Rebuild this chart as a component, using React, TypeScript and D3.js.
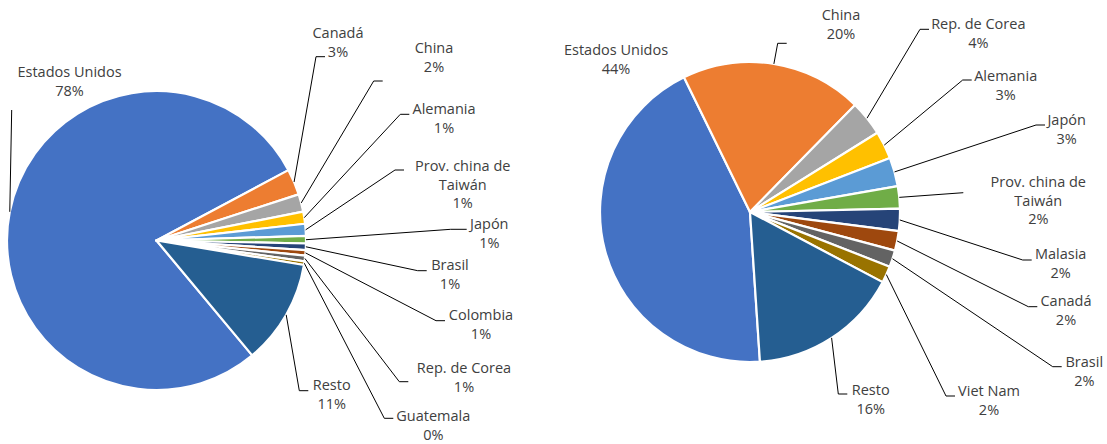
import React from "react";
import * as d3 from "d3";

// ---------- DATA ----------
const leftCategories = ["Estados Unidos", "Canadá", "China", "Alemania", "Prov. china de Taiwán", "Japón", "Brasil", "Colombia", "Rep. de Corea", "Guatemala", "Resto"];
const leftValues = [78.1, 2.8, 1.9, 1.3, 1.3, 0.8, 0.7, 0.6, 0.6, 0.4, 11.3];

const rightCategories = ["Estados Unidos", "China", "Rep. de Corea", "Alemania", "Japón", "Prov. china de Taiwán", "Malasia", "Canadá", "Brasil", "Viet Nam", "Resto"];
const rightValues = [43.8, 19.6, 3.8, 3.0, 3.1, 2.4, 2.4, 2.1, 1.8, 1.8, 16.2];

// label line breaks (text only)
const labelLines: Record<string, string[]> = {
  "Prov. china de Taiwán": ["Prov. china de", "Taiwán"],
};

// ---------- STYLE / LAYOUT ----------
const palette = ["#4472C4", "#ED7D31", "#A5A5A5", "#FFC000", "#5B9BD5", "#70AD47", "#264478", "#9E480E", "#636363", "#997300", "#255E91"];

type LabelPos = { cx: number; cy: number; ex?: number; ey?: number; elbow?: number };

const leftLayout = {
  cx: 156.5, cy: 240.5, r: 149.5, startDeg: 140.2,
  labels: [
    { cx: 69.5, cy: 72, ex: 11.7, ey: 110, elbow: 0 },
    { cx: 338, cy: 33, ex: 325, ey: 56.7 },
    { cx: 434, cy: 48, ex: 382.7, ey: 81 },
    { cx: 444, cy: 109, ex: 409.3, ey: 114.3 },
    { cx: 462.7, cy: 165.7, ex: 404, ey: 170 },
    { cx: 489.3, cy: 224, ex: 466.7, ey: 229.3, elbow: 16 },
    { cx: 450, cy: 265, ex: 426.7, ey: 270.7 },
    { cx: 481, cy: 315, ex: 445, ey: 320.7 },
    { cx: 464, cy: 367.7, ex: 408.3, ey: 381.7 },
    { cx: 433.3, cy: 416, ex: 393.3, ey: 418.3 },
    { cx: 331.7, cy: 385, ex: 308.3, ey: 390.7 },
  ] as LabelPos[],
};

const rightLayout = {
  cx: 750, cy: 212, r: 150, startDeg: 176.2,
  labels: [
    { cx: 616, cy: 50 },
    { cx: 841, cy: 15, ex: 786.7, ey: 43.3 },
    { cx: 978.3, cy: 24, ex: 929, ey: 29.3 },
    { cx: 1005.7, cy: 76, ex: 971.7, ey: 80 },
    { cx: 1066.7, cy: 120, ex: 1045, ey: 125 },
    { cx: 1038.3, cy: 181.7, ex: 963.3, ey: 192.7, elbow: 0 },
    { cx: 1060.7, cy: 254.3, ex: 1031.7, ey: 260 },
    { cx: 1066, cy: 301, ex: 1037.3, ey: 306.7 },
    { cx: 1084.3, cy: 362.3, ex: 1061.7, ey: 366.7 },
    { cx: 989, cy: 390.7, ex: 955, ey: 396 },
    { cx: 870.7, cy: 390, ex: 847.3, ey: 394 },
  ] as LabelPos[],
};

const FONT = "'Open Sans', 'Noto Sans', sans-serif";
const FONT_SIZE = 14.5;
const LINE_H = 18.8;
const TEXT_COLOR = "#404040";

function Pie({ categories, values, layout }: { categories: string[]; values: number[]; layout: typeof leftLayout }) {
  const total = d3.sum(values);
  const start = (layout.startDeg * Math.PI) / 180;
  const pie = d3.pie<number>().sort(null).value((d) => d).startAngle(start).endAngle(start + 2 * Math.PI);
  const arcs = pie(values);
  const arc = d3.arc<d3.PieArcDatum<number>>().innerRadius(0).outerRadius(layout.r);
  const color = d3.scaleOrdinal<number, string>().domain(d3.range(values.length)).range(palette);

  return (
    <g>
      <g transform={`translate(${layout.cx},${layout.cy})`}>
        {arcs.map((a, i) => (
          <path key={i} d={arc(a) || ""} fill={color(i)} stroke="#fff" strokeWidth={2.2} strokeLinejoin="round" />
        ))}
      </g>
      {arcs.map((a, i) => {
        const lp = layout.labels[i];
        const mid = (a.startAngle + a.endAngle) / 2;
        const sx = layout.cx + layout.r * Math.sin(mid);
        const sy = layout.cy - layout.r * Math.cos(mid);
        const lines = [...(labelLines[categories[i]] || [categories[i]]), `${Math.round((values[i] / total) * 100)}%`];
        const elbow = lp.elbow === undefined ? 9 : lp.elbow;
        return (
          <g key={i}>
            {lp.ex !== undefined && lp.ey !== undefined && (
              <polyline
                points={`${sx},${sy} ${lp.ex - elbow},${lp.ey} ${lp.ex},${lp.ey}`}
                fill="none"
                stroke="#000"
                strokeWidth={1}
              />
            )}
            <text textAnchor="middle" fontFamily={FONT} fontSize={FONT_SIZE} fill={TEXT_COLOR}>
              {lines.map((t, j) => (
                <tspan key={j} x={lp.cx} y={lp.cy + 5 + j * LINE_H}>
                  {t}
                </tspan>
              ))}
            </text>
          </g>
        );
      })}
    </g>
  );
}

export default function App() {
  return (
    <svg width={1107} height={444} style={{ position: "absolute", left: 0, top: 0, background: "#fff" }}>
      <rect x={0} y={0} width={1107} height={444} fill="#fff" />
      <Pie categories={leftCategories} values={leftValues} layout={leftLayout} />
      <Pie categories={rightCategories} values={rightValues} layout={rightLayout} />
    </svg>
  );
}
